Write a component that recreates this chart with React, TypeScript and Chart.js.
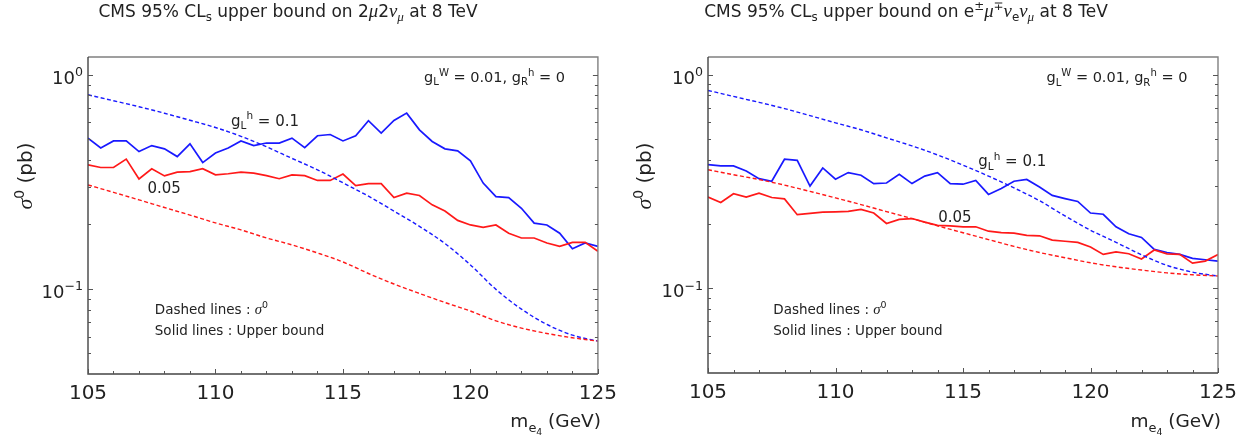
import React, { useEffect, useRef } from 'react';
import { Chart, registerables } from 'chart.js';

Chart.register(...registerables);

// ---------- data ----------
const MASS_FINE = [
  105, 105.5, 106, 106.5, 107, 107.5, 108, 108.5, 109, 109.5, 110, 110.5, 111, 111.5,
  112, 112.5, 113, 113.5, 114, 114.5, 115, 115.5, 116, 116.5, 117, 117.5, 118, 118.5,
  119, 119.5, 120, 120.5, 121, 121.5, 122, 122.5, 123, 123.5, 124, 124.5, 125,
];
const MASS_COARSE = [
  105, 106, 107, 108, 109, 110, 111, 112, 113, 114, 115, 116, 117, 118, 119, 120, 121,
  122, 123, 124, 125,
];

// 2mu2nu channel
const MM_BOUND_01 = [
  0.506, 0.455, 0.491, 0.491, 0.438, 0.467, 0.451, 0.415, 0.476, 0.389, 0.431, 0.455,
  0.491, 0.467, 0.48, 0.48, 0.506, 0.457, 0.519, 0.526, 0.491, 0.519, 0.61, 0.534, 0.612,
  0.662, 0.553, 0.488, 0.451, 0.441, 0.396, 0.312, 0.27, 0.267, 0.238, 0.203, 0.199,
  0.182, 0.154, 0.164, 0.158,
];
const MM_BOUND_005 = [
  0.38, 0.369, 0.369, 0.404, 0.326, 0.364, 0.337, 0.351, 0.353, 0.364, 0.341, 0.345,
  0.351, 0.347, 0.338, 0.327, 0.341, 0.338, 0.321, 0.321, 0.344, 0.304, 0.31, 0.31,
  0.267, 0.28, 0.273, 0.247, 0.231, 0.209, 0.199, 0.194, 0.199, 0.182, 0.173, 0.173,
  0.164, 0.158, 0.165, 0.165, 0.15,
];
const MM_SIGMA_01 = [
  0.806, 0.756, 0.709, 0.661, 0.613, 0.567, 0.516, 0.461, 0.407, 0.36, 0.313, 0.271,
  0.231, 0.196, 0.163, 0.1295, 0.0996, 0.0805, 0.0683, 0.0609, 0.0571,
];
const MM_SIGMA_005 = [
  0.306, 0.2825, 0.2606, 0.24, 0.2213, 0.2034, 0.1887, 0.1731, 0.1606, 0.1473, 0.1337,
  0.1181, 0.1055, 0.0953, 0.0865, 0.0789, 0.071, 0.0657, 0.062, 0.0592, 0.0571,
];

// e mu nu nu channel
const EM_BOUND_01 = [
  0.379, 0.374, 0.374, 0.354, 0.326, 0.317, 0.402, 0.397, 0.301, 0.366, 0.324, 0.348,
  0.338, 0.309, 0.311, 0.342, 0.309, 0.335, 0.348, 0.309, 0.307, 0.32, 0.275, 0.293,
  0.317, 0.323, 0.298, 0.272, 0.263, 0.255, 0.225, 0.222, 0.194, 0.18, 0.173, 0.152,
  0.147, 0.144, 0.138, 0.136, 0.134,
];
const EM_BOUND_005 = [
  0.267, 0.252, 0.277, 0.267, 0.279, 0.266, 0.262, 0.221, 0.224, 0.227, 0.228, 0.229,
  0.234, 0.225, 0.201, 0.21, 0.212, 0.204, 0.197, 0.196, 0.194, 0.194, 0.185, 0.182,
  0.181, 0.177, 0.176, 0.168, 0.166, 0.164, 0.156, 0.144, 0.148, 0.145, 0.137, 0.151,
  0.145, 0.144, 0.131, 0.134, 0.144,
];
const EM_SIGMA_01 = [
  0.844, 0.791, 0.742, 0.694, 0.643, 0.595, 0.552, 0.506, 0.464, 0.421, 0.377, 0.335,
  0.295, 0.257, 0.218, 0.187, 0.164, 0.1435, 0.128, 0.119, 0.114,
];
const EM_SIGMA_005 = [
  0.359, 0.34, 0.323, 0.304, 0.284, 0.265, 0.2465, 0.2285, 0.212, 0.196, 0.182, 0.169,
  0.157, 0.147, 0.139, 0.1316, 0.126, 0.1217, 0.118, 0.1156, 0.1142,
];

const X_TICKS = [105, 110, 115, 120, 125];
const Y_MAJOR = [0.1, 1];
const Y_MINOR = [0.05, 0.06, 0.07, 0.08, 0.09, 0.2, 0.3, 0.4, 0.5, 0.6, 0.7, 0.8, 0.9];
const Y_MIN = 0.0401;
const Y_MAX = 1.21;

// ---------- rich text ----------
type Seg = { t: string; k?: 'sub' | 'sup' | 'subsub'; i?: boolean; serif?: boolean };
const SANS = '"DejaVu Sans", sans-serif';
const SERIF = '"Liberation Serif", "DejaVu Serif", serif';

function segFont(seg: Seg, size: number) {
  const sc = seg.k === 'sub' || seg.k === 'sup' ? 0.7 : seg.k === 'subsub' ? 0.5 : 1;
  const fam = seg.serif ? SERIF : SANS;
  const dy =
    seg.k === 'sub' ? 0.25 * size : seg.k === 'sup' ? -0.42 * size : seg.k === 'subsub' ? 0.45 * size : 0;
  return { font: `${seg.i ? 'italic ' : ''}${(size * (seg.serif ? 1.1 : 1) * sc).toFixed(2)}px ${fam}`, dy };
}

function richWidth(ctx: CanvasRenderingContext2D, segs: Seg[], size: number) {
  let w = 0;
  for (const s of segs) {
    ctx.font = segFont(s, size).font;
    w += ctx.measureText(s.t).width;
  }
  return w;
}

function drawRich(
  ctx: CanvasRenderingContext2D,
  segs: Seg[],
  x: number,
  y: number,
  size: number,
  align: 'left' | 'center' | 'right',
  color = '#222'
) {
  const w = richWidth(ctx, segs, size);
  let cx = align === 'left' ? x : align === 'center' ? x - w / 2 : x - w;
  ctx.save();
  ctx.fillStyle = color;
  ctx.textAlign = 'left';
  ctx.textBaseline = 'alphabetic';
  for (const s of segs) {
    const f = segFont(s, size);
    ctx.font = f.font;
    ctx.fillText(s.t, cx, y + f.dy);
    cx += ctx.measureText(s.t).width;
  }
  ctx.restore();
}

// ---------- texts ----------
const TITLE_MM: Seg[] = [
  { t: 'CMS 95% CL' }, { t: 's', k: 'sub' }, { t: ' upper bound on 2' }, { t: 'μ', i: true, serif: true },
  { t: '2' }, { t: 'ν', i: true, serif: true }, { t: 'μ', k: 'sub', i: true, serif: true }, { t: ' at 8 TeV' },
];
const TITLE_EM: Seg[] = [
  { t: 'CMS 95% CL' }, { t: 's', k: 'sub' }, { t: ' upper bound on e' }, { t: '±', k: 'sup' },
  { t: 'μ', i: true, serif: true }, { t: '∓', k: 'sup' }, { t: 'ν', i: true, serif: true }, { t: 'e', k: 'sub' },
  { t: 'ν', i: true, serif: true }, { t: 'μ', k: 'sub', i: true, serif: true }, { t: ' at 8 TeV' },
];
const Y_LABEL: Seg[] = [{ t: 'σ', i: true, serif: true }, { t: '0', k: 'sup' }, { t: ' (pb)' }];
const X_LABEL: Seg[] = [{ t: 'm' }, { t: 'e', k: 'sub' }, { t: '4', k: 'subsub' }, { t: ' (GeV)' }];
const COUPLINGS: Seg[] = [
  { t: 'g' }, { t: 'L', k: 'sub' }, { t: 'W', k: 'sup' }, { t: ' = 0.01, g' }, { t: 'R', k: 'sub' },
  { t: 'h', k: 'sup' }, { t: ' = 0' },
];
const LABEL_01: Seg[] = [{ t: 'g' }, { t: 'L', k: 'sub' }, { t: 'h', k: 'sup' }, { t: ' = 0.1' }];
const LABEL_005: Seg[] = [{ t: '0.05' }];
const NOTE_DASHED: Seg[] = [{ t: 'Dashed lines : ' }, { t: 'σ', i: true, serif: true }, { t: '0', k: 'sup' }];
const NOTE_SOLID: Seg[] = [{ t: 'Solid lines : Upper bound' }];

type PanelCfg = {
  title: Seg[];
  titleX: number;
  bound01: number[];
  bound005: number[];
  sigma01: number[];
  sigma005: number[];
  plotLeft: number;
  plotRight: number;
  plotBottom: number;
  yLabelX: number;
  label01: [number, number];
  label005: [number, number];
  couplings: [number, number];
  notes: [number, number, number];
};

const BLUE = 'rgb(25,25,255)';
const RED = 'rgb(255,25,25)';

function pts(xs: number[], ys: number[]) {
  return xs.map((x, i) => ({ x, y: ys[i] }));
}

function makeChart(canvas: HTMLCanvasElement, cfg: PanelCfg) {
  const W = 625;
  const H = 440;
  const decor = {
    id: 'decor',
    afterDraw(chart: any) {
      const ctx: CanvasRenderingContext2D = chart.ctx;
      const a = chart.chartArea;
      const xs = chart.scales.x;
      const ys = chart.scales.y;
      ctx.save();
      // frame
      ctx.lineWidth = 1.4;
      ctx.strokeStyle = '#808080';
      ctx.beginPath();
      ctx.moveTo(a.left, a.top);
      ctx.lineTo(a.right, a.top);
      ctx.lineTo(a.right, a.bottom);
      ctx.stroke();
      ctx.strokeStyle = '#444';
      ctx.beginPath();
      ctx.moveTo(a.left, a.top);
      ctx.lineTo(a.left, a.bottom);
      ctx.lineTo(a.right, a.bottom);
      ctx.stroke();
      // ticks
      ctx.lineWidth = 1;
      ctx.strokeStyle = '#555';
      ctx.beginPath();
      for (const v of MASS_COARSE) {
        const len = X_TICKS.includes(v) ? 5 : 3;
        const px = Math.round(xs.getPixelForValue(v)) + 0.5;
        ctx.moveTo(px, a.bottom);
        ctx.lineTo(px, a.bottom - len);
      }
      for (const v of [...Y_MAJOR, ...Y_MINOR]) {
        const len = Y_MAJOR.includes(v) ? 5 : 3;
        const py = Math.round(ys.getPixelForValue(v)) + 0.5;
        ctx.moveTo(a.left, py);
        ctx.lineTo(a.left + len, py);
        ctx.moveTo(a.right, py);
        ctx.lineTo(a.right - len, py);
      }
      ctx.stroke();
      ctx.restore();

      // y tick labels 10^n
      for (const v of Y_MAJOR) {
        const py = ys.getPixelForValue(v);
        const e = Math.round(Math.log10(v));
        const segs: Seg[] = [{ t: '10' }, { t: e < 0 ? '−' + String(-e) : String(e), k: 'sup' }];
        drawRich(ctx, segs, a.left - 5, py + 9, 18, 'right');
      }
      // title
      drawRich(ctx, cfg.title, cfg.titleX, 17, 17, 'center');
      // axis labels
      ctx.save();
      ctx.translate(cfg.yLabelX, 176);
      ctx.rotate(-Math.PI / 2);
      drawRich(ctx, Y_LABEL, 0, 0, 20, 'center');
      ctx.restore();
      drawRich(ctx, X_LABEL, a.right + 3, 427, 18.5, 'right');
      // annotations
      drawRich(ctx, COUPLINGS, xs.getPixelForValue(cfg.couplings[0]), ys.getPixelForValue(cfg.couplings[1]), 14.5, 'right');
      drawRich(ctx, LABEL_01, xs.getPixelForValue(cfg.label01[0]), ys.getPixelForValue(cfg.label01[1]), 15, 'left');
      drawRich(ctx, LABEL_005, xs.getPixelForValue(cfg.label005[0]), ys.getPixelForValue(cfg.label005[1]), 15, 'left');
      const nx = xs.getPixelForValue(cfg.notes[0]);
      drawRich(ctx, NOTE_DASHED, nx, ys.getPixelForValue(cfg.notes[1]), 13.5, 'left');
      drawRich(ctx, NOTE_SOLID, nx, ys.getPixelForValue(cfg.notes[2]), 13.5, 'left');
    },
  };

  const solid = (data: any[], color: string) => ({
    data,
    borderColor: color,
    borderWidth: 1.7,
    pointRadius: 0,
    tension: 0,
    fill: false,
  });
  const dashed = (data: any[], color: string) => ({
    data,
    borderColor: color,
    borderWidth: 1.4,
    borderDash: [4, 2.5],
    pointRadius: 0,
    cubicInterpolationMode: 'monotone' as const,
    fill: false,
  });

  return new Chart(canvas, {
    type: 'line',
    data: {
      datasets: [
        dashed(pts(MASS_COARSE, cfg.sigma005), RED),
        dashed(pts(MASS_COARSE, cfg.sigma01), BLUE),
        solid(pts(MASS_FINE, cfg.bound005), RED),
        solid(pts(MASS_FINE, cfg.bound01), BLUE),
      ] as any,
    },
    options: {
      responsive: false,
      animation: false,
      events: [],
      layout: { padding: { left: 0, right: W - cfg.plotRight, top: 57, bottom: 0 } },
      plugins: { legend: { display: false }, tooltip: { enabled: false }, title: { display: false } },
      scales: {
        x: {
          type: 'linear',
          min: 105,
          max: 125,
          afterBuildTicks: (s: any) => {
            s.ticks = X_TICKS.map((v) => ({ value: v }));
          },
          ticks: {
            font: { family: SANS, size: 20 },
            color: '#222',
            padding: 8,
            maxRotation: 0,
            autoSkip: false,
          },
          grid: { display: false, drawTicks: false },
          border: { display: false },
          afterFit: (s: any) => {
            s.height = H - cfg.plotBottom;
          },
        },
        y: {
          type: 'logarithmic',
          min: Y_MIN,
          max: Y_MAX,
          ticks: { display: false },
          grid: { display: false, drawTicks: false },
          border: { display: false },
          afterFit: (s: any) => {
            s.width = cfg.plotLeft;
          },
        },
      },
    } as any,
    plugins: [decor],
  });
}

const LEFT_CFG: PanelCfg = {
  title: TITLE_MM,
  titleX: 288,
  bound01: MM_BOUND_01,
  bound005: MM_BOUND_005,
  sigma01: MM_SIGMA_01,
  sigma005: MM_SIGMA_005,
  plotLeft: 88,
  plotRight: 600,
  plotBottom: 374,
  yLabelX: 32,
  label01: [110.61, 0.578],
  label005: [107.33, 0.281],
  couplings: [123.71, 0.927],
  notes: [107.62, 0.0764, 0.061],
};

const RIGHT_CFG: PanelCfg = {
  title: TITLE_EM,
  titleX: 281,
  bound01: EM_BOUND_01,
  bound005: EM_BOUND_005,
  sigma01: EM_SIGMA_01,
  sigma005: EM_SIGMA_005,
  plotLeft: 83,
  plotRight: 593,
  plotBottom: 373,
  yLabelX: 26,
  label01: [115.6, 0.372],
  label005: [114.03, 0.204],
  couplings: [123.8, 0.92],
  notes: [107.56, 0.0757, 0.0603],
};

function Panel({ cfg, left }: { cfg: PanelCfg; left: number }) {
  const ref = useRef<HTMLCanvasElement>(null);
  useEffect(() => {
    if (!ref.current) return;
    const ch = makeChart(ref.current, cfg);
    return () => ch.destroy();
  }, [cfg]);
  return (
    <div style={{ position: 'absolute', left, top: 0, width: 625, height: 440 }}>
      <canvas ref={ref} width={625} height={440} style={{ width: 625, height: 440, display: 'block' }} />
    </div>
  );
}

export default function App() {
  return (
    <div style={{ position: 'absolute', left: 0, top: 0, width: 1250, height: 440, background: '#fff' }}>
      <Panel cfg={LEFT_CFG} left={0} />
      <Panel cfg={RIGHT_CFG} left={625} />
    </div>
  );
}
